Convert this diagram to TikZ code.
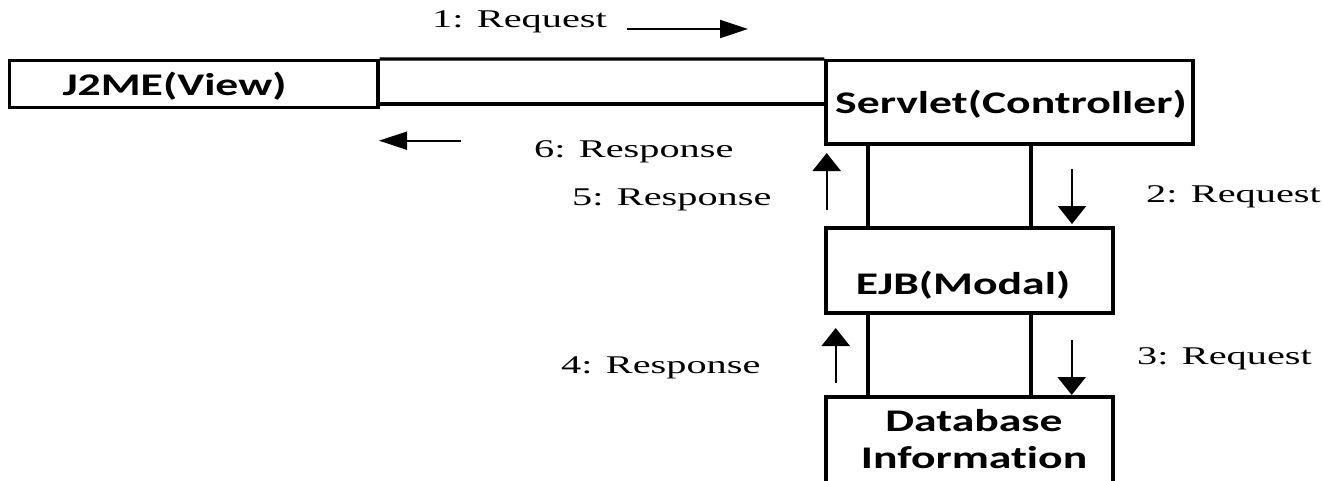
\documentclass[tikz,border=0pt]{standalone}
\usepackage{fontspec}
\setmainfont{Liberation Serif}
\newfontfamily\boxfont{Carlito}[Ligatures=NoCommon]
\usetikzlibrary{arrows.meta}

% wide type, as the labels are set
\newcommand\wlab[1]{\scalebox{1.58}[1]{#1}}
\newcommand\wbox[1]{\scalebox{1.45}[1]{#1}}

\tikzset{
  box/.style={draw, line width=3.4pt, inner sep=0pt},
  boxtext/.style={inner sep=0pt, anchor=base,
    font=\boxfont\bfseries\fontsize{31.5}{37}\selectfont},
  msg/.style={inner sep=0pt, anchor=base west,
    font=\fontsize{25.5}{29}\selectfont},
  link/.style={line width=3.4pt},
  harrow/.style={line width=2pt, -{Triangle[length=28pt,width=18pt]}},
  varrow/.style={line width=2.2pt, -{Triangle[length=18pt,width=28pt]}},
}

\begin{document}
\begin{tikzpicture}[x=1pt, y=-1pt]
\useasboundingbox (0,0) rectangle (1323,480);

% components
\node[box, minimum width=368.7pt, minimum height=46.6pt] (j2me) at (193.6,84) {};
\node[box, minimum width=367pt, minimum height=83.3pt] (servlet) at (1009.5,102.3) {};
\node[box, minimum width=287pt, minimum height=85pt] (ejb) at (969.5,270.5) {};
\node[box, minimum width=287pt, minimum height=89pt] (db) at (969.5,441.5) {};

\node[boxtext] (j2me-t) at (174.5,95) {\wbox{J2ME(View)}};
\node[boxtext] (servlet-t) at (1011,113) {\wbox{Servlet(Controller)}};
\node[boxtext] (ejb-t) at (963,294) {\wbox{EJB(Modal)}};
\node[boxtext, anchor=center, align=center] (db-t) at (974,439)
  {\wbox{Database}\\\wbox{Information}};

% link between view and controller
\coordinate (bandy) at (0,104);
\draw[link] (j2me.north east) -- (servlet.north west);
\draw[link] (j2me.east |- bandy) -- (servlet.west |- bandy);

% links down the stack
\coordinate (colL) at (868,0);
\coordinate (colR) at (1031,0);
\draw[link] (servlet.south -| colL) -- (ejb.north -| colL);
\draw[link] (servlet.south -| colR) -- (ejb.north -| colR);
\draw[link] (ejb.south -| colL) -- (db.north -| colL);
\draw[link] (ejb.south -| colR) -- (db.north -| colR);

% message arrows
\coordinate (a1s) at (627,29);    \coordinate (a1e) at (748,29);
\coordinate (a6s) at (461,140.7); \coordinate (a6e) at (379,140.7);
\coordinate (a5s) at (826.7,210); \coordinate (a5e) at (826.7,153);
\coordinate (a2s) at (1072,169);  \coordinate (a2e) at (1072,224);
\coordinate (a4s) at (835.7,383); \coordinate (a4e) at (835.7,328);
\coordinate (a3s) at (1071.7,340);\coordinate (a3e) at (1071.7,395);
\draw[harrow] (a1s) -- (a1e);
\draw[harrow] (a6s) -- (a6e);
\draw[varrow] (a5s) -- (a5e);
\draw[varrow] (a2s) -- (a2e);
\draw[varrow] (a4s) -- (a4e);
\draw[varrow] (a3s) -- (a3e);

% message labels
\node[msg] (m1) at (432,27) {\wlab{1: Request}};
\node[msg] (m6) at (534,157) {\wlab{6: Response}};
\node[msg] (m5) at (572,205) {\wlab{5: Response}};
\node[msg] (m2) at (1146,202) {\wlab{2: Request}};
\node[msg] (m4) at (561,373) {\wlab{4: Response}};
\node[msg] (m3) at (1137,364) {\wlab{3: Request}};
\end{tikzpicture}
\end{document}
